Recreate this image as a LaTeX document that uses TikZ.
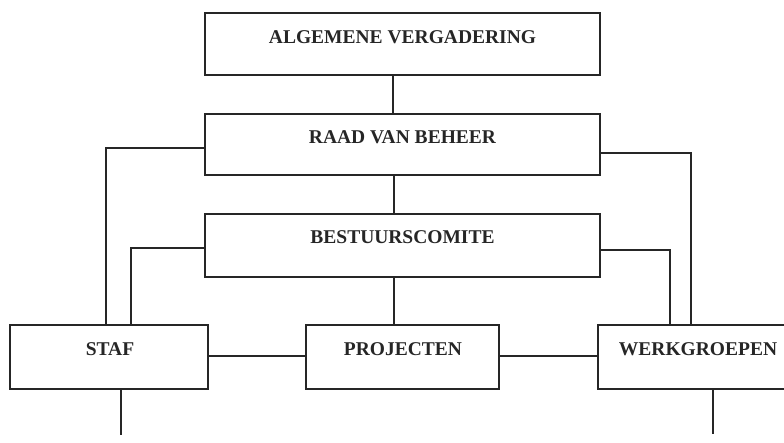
\documentclass[tikz,border=0pt]{standalone}
\usepackage{fontspec}
\setmainfont{Liberation Serif}
\begin{document}
\begin{tikzpicture}[x=1pt,y=-1pt,
  box/.style={draw=black!85, line width=1.7pt, rectangle, inner sep=0pt},
  lbl/.style={anchor=base, inner sep=0pt, font=\fontsize{19.5}{22}\selectfont\bfseries, text=black!85},
  conn/.style={draw=black!85, line width=1.3pt}]
\useasboundingbox (0,0) rectangle (784,442);
% boxes
\node[box, minimum width=395pt, minimum height=62pt] (av)   at (402.5,44) {};
\node[box, minimum width=395pt, minimum height=61pt] (rvb)  at (402.5,144.5) {};
\node[box, minimum width=395pt, minimum height=63pt] (bc)   at (402.5,245.5) {};
\node[box, minimum width=198pt, minimum height=64pt] (staf) at (109,357) {};
\node[box, minimum width=193pt, minimum height=64pt] (proj) at (402.5,357) {};
\node[box, minimum width=200pt, minimum height=64pt] (werk) at (698,357) {};
% labels
\node[lbl] (tav)   at (402.5,43) {ALGEMENE VERGADERING};
\node[lbl] (trvb)  at (402.5,143) {RAAD VAN BEHEER};
\node[lbl] (tbc)   at (402.5,243) {BESTUURSCOMITE};
\node[lbl] (tstaf) at (110,355) {STAF};
\node[lbl] (tproj) at (403,355) {PROJECTEN};
\node[lbl] (twerk) at (698,355) {WERKGROEPEN};
% free ends
\coordinate (stafend) at (121,435);
\coordinate (werkend) at (713,434);
% connectors
\draw[conn] ([xshift=-9.5pt]av.south) -- ([xshift=-9.5pt]rvb.north);
\draw[conn] ([xshift=-8.5pt]rvb.south) -- ([xshift=-8.5pt]bc.north);
\draw[conn] ([xshift=-8.5pt]bc.south) -- ([xshift=-8.5pt]proj.north);
\draw[conn] ([yshift=-3.5pt]rvb.west) -| ([xshift=-3pt]staf.north);
\draw[conn] ([yshift=-2.5pt]bc.west) -| ([xshift=22pt]staf.north);
\draw[conn] ([yshift=-8.5pt]rvb.east) -| ([xshift=-7pt]werk.north);
\draw[conn] ([yshift=-4.5pt]bc.east) -| ([xshift=-28pt]werk.north);
\draw[conn] ([yshift=1pt]staf.east) -- ([yshift=1pt]proj.west);
\draw[conn] ([yshift=1pt]proj.east) -- ([yshift=1pt]werk.west);
\draw[conn] (staf.south -| stafend) -- (stafend);
\draw[conn] (werk.south -| werkend) -- (werkend);
\end{tikzpicture}
\end{document}
